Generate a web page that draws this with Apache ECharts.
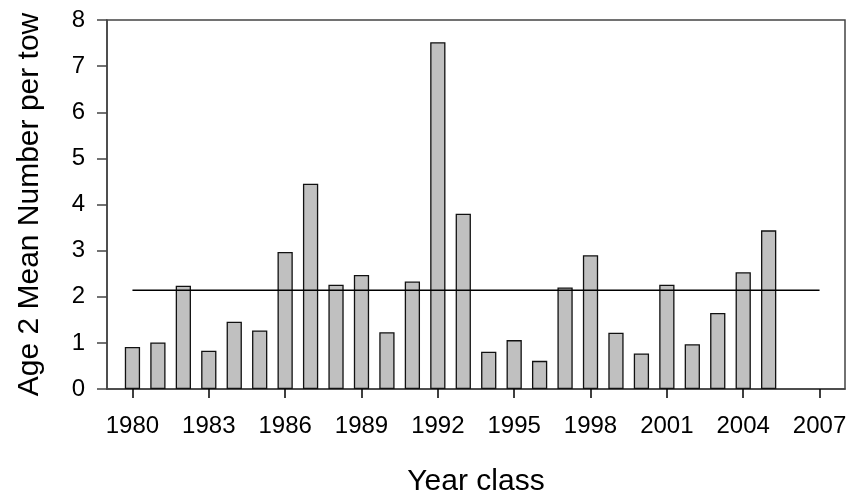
<!DOCTYPE html>
<html>
<head>
<meta charset="utf-8">
<script src="https://cdn.jsdelivr.net/npm/echarts@6/dist/echarts.min.js"></script>
<style>
  html, body { margin: 0; padding: 0; background: #fff; }
  #chart { width: 857px; height: 495px; }
</style>
</head>
<body>
<div id="chart"></div>
<script>
// year classes on the axis (1979 and 2008 only pad the frame)
const years = ['1979', '1980', '1981', '1982', '1983', '1984', '1985', '1986', '1987', '1988',
  '1989', '1990', '1991', '1992', '1993', '1994', '1995', '1996', '1997', '1998',
  '1999', '2000', '2001', '2002', '2003', '2004', '2005', '2006', '2007', '2008']
// age 2 mean number per tow, one per year above
const meanPerTow = [null, 0.91, 1.01, 2.24, 0.83, 1.46, 1.27, 2.97, 4.45, 2.26,
  2.47, 1.23, 2.33, 7.52, 3.80, 0.81, 1.06, 0.61, 2.20, 2.90,
  1.22, 0.77, 2.26, 0.97, 1.65, 2.53, 3.44, null, null, null]
// long-term mean line
const lineYears = ['1980', '2007']
const lineValue = 2.14
const yTicks = [0, 1, 2, 3, 4, 5, 6, 7, 8]

const font = '"Liberation Sans", Arial, sans-serif'
const chart = echarts.init(document.getElementById('chart'))
const every3 = (i, v) => (Number(v) - 1980) % 3 === 0

chart.setOption({
  animation: false,
  grid: {
    left: 107, right: 12, top: 20, bottom: 106,
    outerBoundsMode: 'none',
    containLabel: false,
    show: true, borderColor: '#444', borderWidth: 1.5
  },
  xAxis: {
    type: 'category',
    data: years,
    boundaryGap: false,
    name: 'Year class',
    nameLocation: 'middle',
    nameGap: 78,
    nameTextStyle: { fontFamily: font, fontSize: 30, color: '#000' },
    axisLine: { lineStyle: { color: '#444', width: 1.5 } },
    axisTick: { interval: every3, length: 9, lineStyle: { color: '#000', width: 1.5 } },
    axisLabel: { interval: every3, margin: 25, fontFamily: font, fontSize: 24, color: '#000' },
    splitLine: { show: false }
  },
  yAxis: {
    type: 'value',
    min: yTicks[0],
    max: yTicks[yTicks.length - 1],
    interval: 1,
    name: 'Age 2 Mean Number per tow',
    nameLocation: 'middle',
    nameGap: 62,
    nameTextStyle: { fontFamily: font, fontSize: 30, color: '#000' },
    axisLine: { show: true, lineStyle: { color: '#444', width: 1.5 } },
    axisTick: { show: true, length: 10, lineStyle: { color: '#444', width: 1.5 } },
    axisLabel: { margin: 22, fontFamily: font, fontSize: 24, color: '#000' },
    splitLine: { show: false }
  },
  series: [
    {
      type: 'bar',
      data: meanPerTow,
      barWidth: '60%',
      itemStyle: { color: '#c0c0c0', borderColor: '#111', borderWidth: 1.3 }
    },
    {
      type: 'line',
      data: lineYears.map(y => [y, lineValue]),
      symbol: 'none',
      z: 5,
      lineStyle: { color: '#000', width: 1.5 }
    }
  ]
})
</script>
</body>
</html>
